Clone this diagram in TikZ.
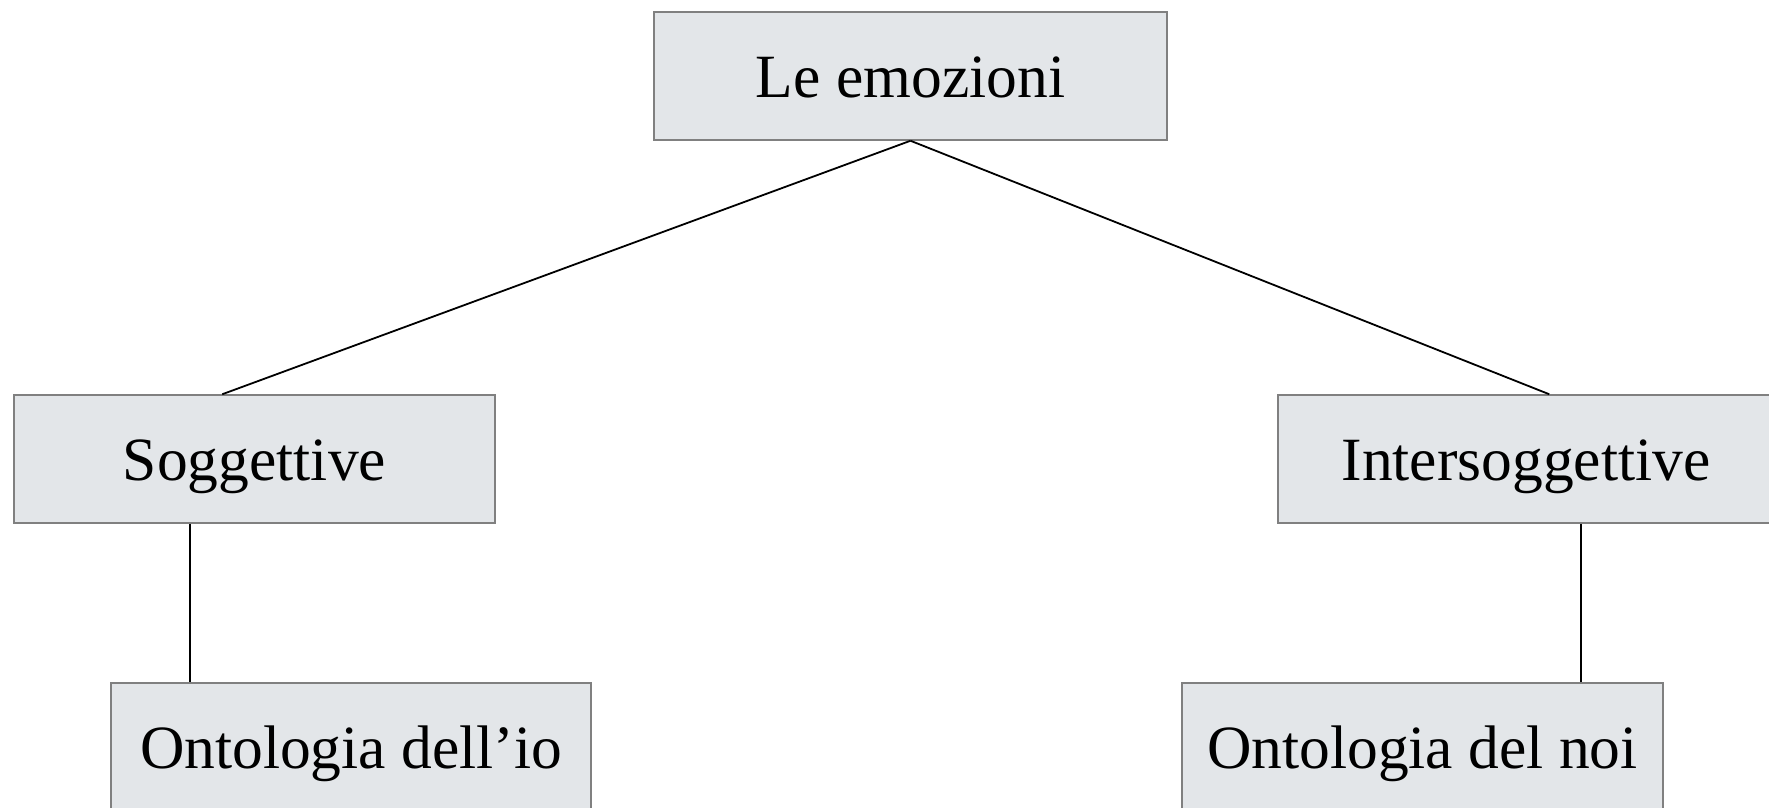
\documentclass[tikz,border=0pt]{standalone}
\usepackage{fontspec}
\setmainfont{Liberation Serif}
\definecolor{boxfill}{RGB}{227,230,233}
\definecolor{boxline}{RGB}{128,128,128}
\tikzset{
  box/.style={draw=boxline, fill=boxfill, line width=1.5pt, rectangle, inner sep=0pt,
    minimum height=128pt, text height=42pt, text depth=0pt,
    font=\fontsize{61.5}{70}\selectfont},
  link/.style={draw=black, line width=1.8pt}
}
\begin{document}
\begin{tikzpicture}[x=1pt,y=-1pt]
\useasboundingbox (0,0) rectangle (1769,807);
\clip (0,0) rectangle (1769,807);
\node[box, minimum width=513pt] (top) at (910.5,76) {Le emozioni};
\node[box, minimum width=481pt] (sog) at (254.5,459) {Soggettive};
\node[box, minimum width=496pt] (inter) at (1526,459) {Intersoggettive};
\node[box, minimum width=480pt] (io) at (351,747) {Ontologia dell’io};
\node[box, minimum width=481pt] (noi) at (1422.5,747) {Ontologia del noi};
\coordinate (sogtop) at ([xshift=209pt]sog.north west);
\coordinate (intertop) at ([xshift=272pt]inter.north west);
\coordinate (sogbot) at ([xshift=177pt]sog.south west);
\coordinate (interbot) at ([xshift=304pt]inter.south west);
\draw[link] (top.south) -- (sogtop);
\draw[link] (top.south) -- (intertop);
\draw[link] (sogbot) -- (sogbot |- io.north);
\draw[link] (interbot) -- (interbot |- noi.north);
\end{tikzpicture}
\end{document}
